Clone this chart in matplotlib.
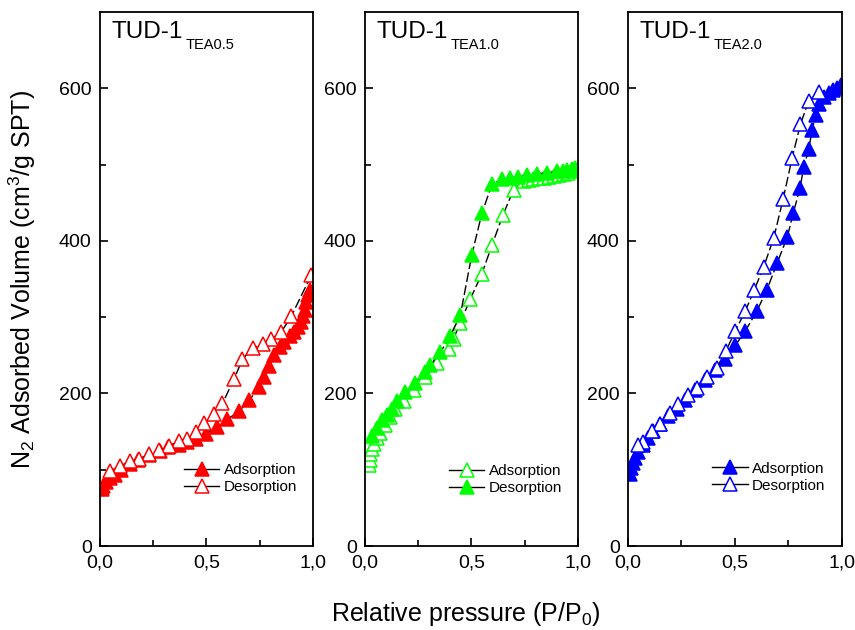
import matplotlib.pyplot as plt

plt.rcParams['font.family'] = ['Liberation Sans', 'DejaVu Sans']
plt.rcParams['mathtext.fontset'] = 'custom'
plt.rcParams['mathtext.rm'] = 'Liberation Sans'
plt.rcParams['mathtext.it'] = 'Liberation Sans:italic'

# TUD-1 TEA0.5 (red)
ads1_p = [0.008, 0.016, 0.03, 0.047, 0.07, 0.10, 0.14, 0.18, 0.23, 0.28, 0.32, 0.37, 0.41,
          0.449, 0.496, 0.551, 0.598, 0.654, 0.70, 0.748, 0.772, 0.795, 0.819, 0.843, 0.866,
          0.89, 0.913, 0.929, 0.945, 0.953, 0.961, 0.969, 0.976, 0.984]
ads1_v = [75, 79, 84, 89, 93, 100, 107, 113, 119, 125, 130, 133, 136,
          140, 147, 156, 166, 177, 191, 208, 222, 236, 250, 261, 268,
          275, 280, 287, 294, 301, 310, 320, 329, 336]
des1_p = [0.992, 0.898, 0.85, 0.803, 0.764, 0.717, 0.669, 0.63, 0.575, 0.535, 0.488, 0.449,
          0.41, 0.37, 0.323, 0.276, 0.228, 0.181, 0.142, 0.094, 0.047]
des1_v = [355, 301, 280, 271, 265, 259, 245, 219, 187, 173, 161, 149,
          140, 138, 131, 126, 120, 114, 111, 105, 98]

# TUD-1 TEA1.0 (green)
open2_p = [0.017, 0.022, 0.025, 0.033, 0.041, 0.056, 0.072, 0.095, 0.119, 0.142, 0.182, 0.228,
           0.283, 0.338, 0.393, 0.416, 0.448, 0.495, 0.549, 0.596, 0.648, 0.698, 0.745, 0.77,
           0.79, 0.815, 0.84, 0.865, 0.886, 0.91, 0.933, 0.955, 0.98, 0.995]
open2_v = [106, 113, 120, 127, 134, 141, 148, 158, 169, 179, 190, 204,
           221, 240, 258, 272, 293, 324, 357, 394, 434, 467, 478, 480,
           481, 482, 483, 484, 485, 486, 488, 489, 491, 493]
fill2_p = [0.033, 0.056, 0.08, 0.103, 0.127, 0.15, 0.19, 0.236, 0.283, 0.307, 0.354, 0.40,
           0.448, 0.502, 0.549, 0.596, 0.643, 0.682, 0.72, 0.76, 0.807, 0.854, 0.90, 0.93,
           0.948, 0.97, 0.987]
fill2_v = [144, 155, 165, 172, 179, 190, 202, 214, 228, 237, 254, 275,
           303, 382, 436, 474, 481, 483, 484, 486, 488, 489, 491, 492,
           493, 494, 496]

# TUD-1 TEA2.0 (blue)
ads3_p = [0.011, 0.016, 0.024, 0.031, 0.047, 0.07, 0.094, 0.118, 0.149, 0.188, 0.227, 0.266,
          0.313, 0.36, 0.408, 0.455, 0.502, 0.549, 0.603, 0.65, 0.698, 0.745, 0.773, 0.804,
          0.823, 0.846, 0.862, 0.878, 0.893, 0.917, 0.94, 0.961, 0.98, 0.995]
ads3_v = [95, 102, 109, 116, 123, 132, 142, 151, 160, 170, 179, 191,
          205, 217, 231, 245, 263, 282, 308, 336, 371, 405, 436, 469,
          497, 521, 546, 565, 579, 588, 594, 598, 601, 605]
des3_p = [0.893, 0.846, 0.807, 0.768, 0.726, 0.682, 0.635, 0.591, 0.549, 0.502, 0.459, 0.415,
          0.368, 0.321, 0.282, 0.235, 0.196, 0.149, 0.11, 0.07, 0.047]
des3_v = [595, 584, 553, 509, 455, 404, 366, 336, 308, 282, 256, 233,
          221, 207, 198, 186, 174, 160, 151, 137, 132]

titles = ['TEA0.5', 'TEA1.0', 'TEA2.0']
xtick_vals = [0, 0.5, 1.0]
xtick_labels = ['0,0', '0,5', '1,0']
ytick_vals = [0, 200, 400, 600]


def style_axis(ax, sub):
    ax.set_xlim(0, 1.0)
    ax.set_ylim(0, 700)
    ax.set_xticks(xtick_vals)
    ax.set_xticklabels(xtick_labels)
    ax.set_xticks([0.25, 0.75], minor=True)
    ax.set_yticks(ytick_vals)
    ax.set_yticks([100, 300, 500], minor=True)
    ax.tick_params(which='both', direction='in', labelsize=14, width=1.2,
                   top=False, right=False)
    ax.tick_params(which='major', length=6, pad=6)
    ax.tick_params(which='minor', length=4.5)
    for s in ax.spines.values():
        s.set_linewidth(1.3)
    t = ax.text(0.056, 0.951, 'TUD-1', transform=ax.transAxes, fontsize=17.5,
                va='baseline', ha='left')
    ax.annotate(sub, xy=(1, 0), xycoords=t, xytext=(1.5, -4),
                textcoords='offset points', fontsize=10.5, va='baseline', ha='left')


def legend(ax, y):
    leg = ax.legend(loc='upper left', bbox_to_anchor=(0.395, y), frameon=False, fontsize=11,
                    handlelength=2.3, handletextpad=0.3, labelspacing=0.2,
                    borderpad=0, borderaxespad=0)
    for ln in leg.get_lines():
        ln.set_linestyle('-')


fig = plt.figure(figsize=(8.55, 6.3), dpi=100)
ax1 = fig.add_axes([0.117, 0.1333, 0.249, 0.8476])
ax2 = fig.add_axes([0.4269, 0.1333, 0.249, 0.8476])
ax3 = fig.add_axes([0.7345, 0.1333, 0.250, 0.8476])

mk = dict(marker='^', markersize=10, color='black', lw=1.0, markeredgewidth=1.1,
          ls=(0, (7, 2.5)))
green = '#00ff00'

ax1.plot(ads1_p, ads1_v, mfc='red', mec='red', label='Adsorption', **mk)
ax1.plot(des1_p, des1_v, mfc='white', mec='red', label='Desorption', **mk)
style_axis(ax1, titles[0])
legend(ax1, 0.155)

ax2.plot(open2_p, open2_v, mfc='white', mec=green, label='Adsorption', **mk)
ax2.plot(fill2_p, fill2_v, mfc=green, mec=green, label='Desorption', **mk)
style_axis(ax2, titles[1])
legend(ax2, 0.153)

ax3.plot(ads3_p, ads3_v, mfc='blue', mec='blue', label='Adsorption', **mk)
ax3.plot(des3_p, des3_v, mfc='white', mec='blue', label='Desorption', **mk)
style_axis(ax3, titles[2])
legend(ax3, 0.158)

fig.text(0.026, 0.556, 'N$_2$ Adsorbed Volume (cm$^3$/g SPT)', rotation=90,
         fontsize=18, ha='center', va='center')
fig.text(0.545, 0.026, 'Relative pressure (P/P$_0$)', fontsize=18, ha='center', va='center')

fig.savefig('out.png', dpi=100)
